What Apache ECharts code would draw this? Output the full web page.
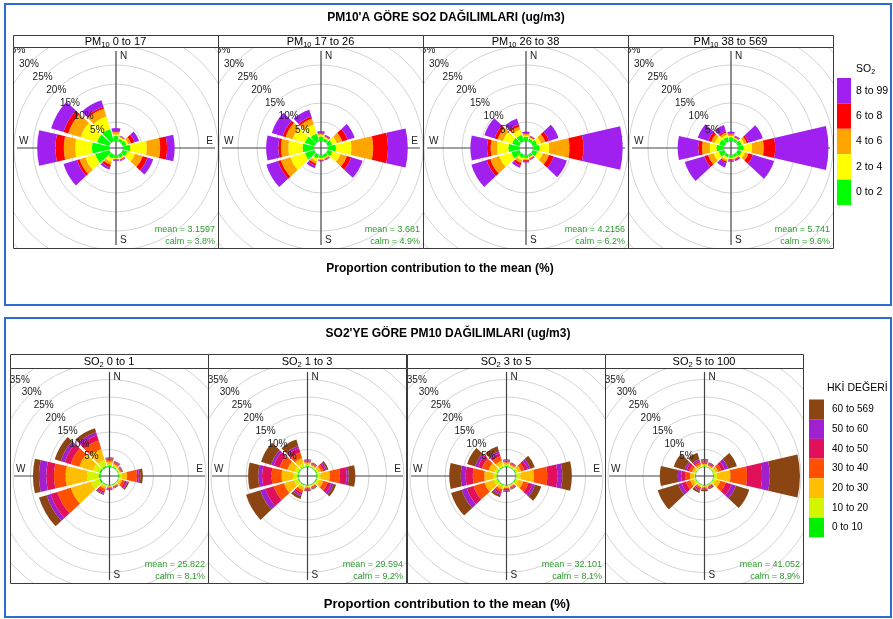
<!DOCTYPE html>
<html><head><meta charset="utf-8">
<script src="https://cdn.jsdelivr.net/npm/echarts@6/dist/echarts.min.js"></script>
<style>
html,body{margin:0;padding:0;background:#fff;}
#wrap{position:relative;width:893px;height:619px;overflow:hidden;background:#fff;}
.c{position:absolute;}
</style></head><body>
<div id="wrap"><div id="bg" class="c" style="left:0;top:0;width:893px;height:619px"></div></div>
<script>
// ---------------- DATA ----------------
const directions = [0, 30, 60, 90, 120, 150, 180, 210, 240, 270, 300, 330];
const ringTicks = [5, 10, 15, 20, 25, 30, 35];

const so2Bins = ['0 to 2', '2 to 4', '4 to 6', '6 to 8', '8 to 99'];
const so2Colors = ['#00FF00', '#FFFF00', '#FFA500', '#FF0000', '#A020F0'];
const pmBins = ['0 to 10', '10 to 20', '20 to 30', '30 to 40', '40 to 50', '50 to 60', '60 to 569'];
const pmColors = ['#00F000', '#D4F500', '#FFBF00', '#FF5000', '#E0115A', '#A020D0', '#8B4513'];

const topStrips = ['0 to 17', '17 to 26', '26 to 38', '38 to 569'];
const topMeans = ['3.1597', '3.681', '4.2156', '5.741'];
const topCalms = ['3.8%', '4.9%', '6.2%', '9.6%'];
const bottomStrips = ['0 to 1', '1 to 3', '3 to 5', '5 to 100'];
const bottomMeans = ['25.822', '29.594', '32.101', '41.052'];
const bottomCalms = ['8.1%', '9.2%', '8.1%', '8.9%'];

// cumulative % per direction (N, 30, 60, E, ..., 330), one value per bin (stack top)
const topPM1 = [
  [1.3,1.8,2.4,2.6,3.4],[0.8,1.1,1.3,1.4,1.6],[1.0,1.5,2.3,3.3,4.5],[1.9,6.3,9.8,11.6,13.6],
  [1.3,3.4,5.5,6.8,8.4],[0.9,1.2,1.4,1.6,1.8],[0.8,1.0,1.2,1.4,1.6],[1.0,2.0,2.8,3.5,4.1],
  [3.9,6.6,8.2,8.9,12.6],[4.5,8.9,11.9,14.1,18.9],[3.4,7.9,11.3,12.6,16.0],[3.4,6.8,9.0,9.5,11.3]];
const topPM2 = [
  [1.2,1.6,2.0,2.2,2.6],[0.8,1.1,1.3,1.5,1.8],[1.2,2.5,4.0,5.5,7.4],[2.1,6.2,11.9,15.8,21.0],
  [1.3,3.5,5.3,6.5,9.6],[0.8,1.0,1.2,1.4,1.6],[0.8,1.1,1.3,1.5,1.7],[1.0,1.8,2.5,3.0,3.7],
  [2.6,6.6,9.2,10.0,13.2],[3.0,6.8,8.7,9.4,12.6],[2.6,6.0,7.9,8.7,11.7],[2.1,4.7,6.3,6.8,8.7]];
const topPM3 = [
  [1.1,1.5,1.9,2.1,2.5],[0.8,1.0,1.2,1.4,1.6],[1.2,2.3,3.5,4.5,7.1],[1.7,4.3,9.6,13.3,23.6],
  [1.3,2.8,4.5,5.8,9.4],[0.7,0.9,1.1,1.3,1.5],[0.8,1.1,1.4,1.7,2.0],[0.9,1.6,2.3,2.9,3.6],
  [2.2,5.5,8.0,9.0,13.2],[2.8,5.8,7.5,8.4,12.8],[2.0,4.5,6.0,6.8,9.6],[1.8,3.2,4.1,4.7,6.3]];
const topPM4 = [
  [1.0,1.4,1.8,2.0,2.5],[0.7,0.9,1.1,1.3,1.6],[1.1,1.8,2.5,3.0,6.9],[1.5,3.7,6.8,9.8,23.8],
  [1.1,2.0,3.0,4.2,10.0],[0.7,1.0,1.2,1.4,1.8],[0.7,1.0,1.2,1.5,1.8],[0.8,1.4,1.9,2.3,3.5],
  [1.5,3.0,4.5,5.5,10.9],[2.0,3.8,5.8,6.8,12.2],[1.4,2.6,3.6,4.4,7.3],[1.2,1.8,2.4,2.8,4.5]];

const botSO1 = [
  [0.4,1.0,1.6,2.0,2.3,2.5,2.8],[0.3,0.7,1.1,1.4,1.6,1.8,2.0],[0.2,0.5,0.8,1.0,1.2,1.3,1.5],
  [0.3,1.0,2.5,5.3,5.8,6.3,7.0],[0.2,0.6,1.2,2.0,2.6,2.9,3.3],[0.2,0.4,0.6,0.8,0.9,1.0,1.2],
  [0.2,0.4,0.7,0.9,1.1,1.3,1.5],[0.3,0.7,1.3,2.0,2.5,2.8,3.1],[0.5,3.0,9.0,13.0,15.0,16.2,18.5],
  [0.5,3.8,10.0,13.3,15.5,17.6,19.3],[0.5,2.5,6.5,9.0,10.8,12.0,13.8],[0.5,2.3,5.5,8.0,9.6,10.5,11.7]];
const botSO2 = [
  [0.3,0.8,1.3,1.6,1.8,2.0,2.2],[0.2,0.5,0.8,1.0,1.2,1.3,1.5],[0.3,0.8,1.5,2.2,2.8,3.2,3.7],
  [0.3,1.2,3.8,6.7,8.6,9.2,11.1],[0.3,1.0,2.2,3.5,4.5,5.2,6.0],[0.2,0.4,0.7,0.9,1.1,1.3,1.5],
  [0.2,0.5,0.8,1.1,1.4,1.6,1.8],[0.3,0.8,1.6,2.4,3.0,3.5,4.3],[0.3,1.5,4.5,7.5,10.0,11.5,15.8],
  [0.3,1.5,4.9,7.7,10.4,11.5,14.4],[0.3,1.3,3.5,5.8,7.5,8.3,11.3],[0.3,1.2,2.8,4.5,5.8,6.4,8.3]];
const botSO3 = [
  [0.3,0.8,1.3,1.6,1.8,2.0,2.2],[0.2,0.5,0.8,1.0,1.2,1.3,1.5],[0.3,0.9,1.8,2.8,3.8,4.5,5.9],
  [0.3,1.5,5.3,9.1,12.0,13.4,16.1],[0.3,1.0,2.5,4.0,5.2,6.0,7.8],[0.2,0.4,0.7,0.9,1.1,1.3,1.5],
  [0.2,0.5,0.9,1.2,1.5,1.7,2.0],[0.3,0.7,1.4,2.1,2.7,3.1,3.8],[0.3,1.3,4.0,7.3,9.3,10.8,14.0],
  [0.3,1.2,3.8,7.1,9.1,10.5,13.8],[0.3,1.0,2.8,4.8,6.0,6.8,9.2],[0.3,0.9,2.0,3.3,4.2,4.8,6.3]];
const botSO4 = [
  [0.2,0.5,0.9,1.3,1.6,1.9,2.3],[0.2,0.4,0.6,0.8,1.0,1.2,1.5],[0.2,0.7,1.5,2.5,3.5,4.5,7.1],
  [0.2,1.1,4.9,9.6,13.9,16.1,24.7],[0.2,0.8,2.2,3.8,5.5,6.8,10.8],[0.2,0.3,0.5,0.7,0.9,1.1,1.4],
  [0.2,0.4,0.7,1.0,1.2,1.4,1.8],[0.2,0.4,0.8,1.2,1.6,1.9,2.5],[0.2,0.6,1.7,3.0,4.3,5.3,11.4],
  [0.2,0.5,1.6,2.9,4.1,5.1,10.2],[0.2,0.5,1.2,2.0,2.8,3.4,6.6],[0.2,0.4,0.9,1.5,2.0,2.4,4.4]];

// ---------------- LAYOUT ----------------
const FONT = "'Liberation Sans', Arial, Helvetica, sans-serif";
const BLUE = '#2D6CD2';
const BORDER = '#3a3a3a';
const groups = [
  { lefts: [13, 218, 423, 628], w: 205, stripTop: 35, top: 47, h: 201,
    inner: 7, pxPer: 3.8, labAng: 44, bins: so2Bins, colors: so2Colors,
    stripPre: 'PM', stripSub: '10', strips: topStrips, means: topMeans, calms: topCalms,
    data: [topPM1, topPM2, topPM3, topPM4] },
  { lefts: [10, 208, 407, 605], w: 198, stripTop: 354, top: 368, h: 215,
    inner: 9, pxPer: 3.5, labAng: 47, bins: pmBins, colors: pmColors,
    stripPre: 'SO', stripSub: '2', strips: bottomStrips, means: bottomMeans, calms: bottomCalms,
    data: [botSO1, botSO2, botSO3, botSO4] }
];

// ---------------- BACKGROUND ----------------
const bgEls = [];
bgEls.push({ type: 'rect', shape: { x: 5, y: 4, width: 886, height: 301 }, style: { fill: 'none', stroke: BLUE, lineWidth: 2 } });
bgEls.push({ type: 'rect', shape: { x: 5, y: 318, width: 886, height: 299 }, style: { fill: 'none', stroke: BLUE, lineWidth: 2 } });
bgEls.push({ type: 'text', style: { text: "PM10'A GÖRE SO2 DAĞILIMLARI (ug/m3)", x: 446, y: 18, textAlign: 'center', textVerticalAlign: 'middle', font: 'bold 12px ' + FONT, fill: '#000' } });
bgEls.push({ type: 'text', style: { text: "SO2'YE GÖRE PM10 DAĞILIMLARI (ug/m3)", x: 448, y: 334, textAlign: 'center', textVerticalAlign: 'middle', font: 'bold 12px ' + FONT, fill: '#000' } });
bgEls.push({ type: 'text', style: { text: 'Proportion contribution to the mean (%)', x: 440, y: 269, textAlign: 'center', textVerticalAlign: 'middle', font: 'bold 12px ' + FONT, fill: '#000' } });
bgEls.push({ type: 'text', style: { text: 'Proportion contribution to the mean (%)', x: 447, y: 604, textAlign: 'center', textVerticalAlign: 'middle', font: 'bold 13px ' + FONT, fill: '#000' } });

groups.forEach(g => {
  g.lefts.forEach((L, i) => {
    bgEls.push({ type: 'rect', shape: { x: L + 0.5, y: g.stripTop + 0.5, width: g.w, height: g.top - g.stripTop }, style: { fill: '#fff', stroke: BORDER, lineWidth: 1 } });
    bgEls.push({ type: 'rect', shape: { x: L + 0.5, y: g.top + 0.5, width: g.w, height: g.h }, style: { fill: '#fff', stroke: BORDER, lineWidth: 1 } });
    bgEls.push({ type: 'text', style: {
      text: '{a|' + g.stripPre + '}{s|' + g.stripSub + '}{a| ' + g.strips[i] + '}',
      x: L + g.w / 2, y: (g.stripTop + g.top) / 2 + 0.5, textAlign: 'center', textVerticalAlign: 'middle',
      rich: { a: { fontSize: 11, fontFamily: FONT, lineHeight: 14, fill: '#000', color: '#000' },
              s: { fontSize: 7.5, fontFamily: FONT, lineHeight: 14, verticalAlign: 'bottom', fill: '#000', color: '#000' } } } });
  });
});

// legend top (SO2)
bgEls.push({ type: 'text', style: { text: '{a|SO}{s|2}', x: 856, y: 69, textAlign: 'left', textVerticalAlign: 'middle',
  rich: { a: { fontSize: 10.5, fontFamily: FONT, lineHeight: 14 }, s: { fontSize: 7, fontFamily: FONT, lineHeight: 14, verticalAlign: 'bottom' } } } });
for (let k = so2Bins.length - 1, row = 0; k >= 0; k--, row++) {
  const y = 78 + row * 25.4;
  bgEls.push({ type: 'rect', shape: { x: 837, y: y, width: 14, height: 25.4 }, style: { fill: so2Colors[k] } });
  bgEls.push({ type: 'text', style: { text: so2Bins[k], x: 856, y: y + 12.7, textAlign: 'left', textVerticalAlign: 'middle', font: '10.5px ' + FONT, fill: '#000' } });
}
// legend bottom (PM10)
bgEls.push({ type: 'text', style: { text: 'HKİ DEĞERİ', x: 827, y: 388, textAlign: 'left', textVerticalAlign: 'middle', font: '10.5px ' + FONT, fill: '#000' } });
for (let k = pmBins.length - 1, row = 0; k >= 0; k--, row++) {
  const y = 399.5 + row * 19.7;
  bgEls.push({ type: 'rect', shape: { x: 809, y: y, width: 15, height: 19.7 }, style: { fill: pmColors[k] } });
  bgEls.push({ type: 'text', style: { text: pmBins[k], x: 832, y: y + 9.85, textAlign: 'left', textVerticalAlign: 'middle', font: '10px ' + FONT, fill: '#000' } });
}

const bg = echarts.init(document.getElementById('bg'), null, { renderer: 'canvas' });
bg.setOption({ animation: false, backgroundColor: '#fff', graphic: { elements: bgEls } });

// ---------------- PANELS ----------------
const wrap = document.getElementById('wrap');
groups.forEach((g, gi) => {
  g.lefts.forEach((L, i) => {
    const div = document.createElement('div');
    div.className = 'c';
    div.style.left = (L + 1) + 'px';
    div.style.top = (g.top + 1) + 'px';
    div.style.width = (g.w - 1) + 'px';
    div.style.height = (g.h - 1) + 'px';
    wrap.appendChild(div);
    const w = g.w - 1, h = g.h - 1;
    const cx = w / 2, cy = h / 2;
    const cum = g.data[i];
    const series = g.bins.map((b, k) => ({
      type: 'bar', coordinateSystem: 'polar', stack: 'rose', name: b,
      data: cum.map(row => +(row[k] - (k ? row[k - 1] : 0)).toFixed(3)),
      itemStyle: { color: g.colors[k] }, barCategoryGap: '13%', silent: true, z: 3
    }));
    const els = [
      { type: 'line', z: 1, silent: true, shape: { x1: cx, y1: 3, x2: cx, y2: h - 3 }, style: { stroke: '#444', lineWidth: 1.2 } },
      { type: 'line', z: 1, silent: true, shape: { x1: 3, y1: cy, x2: w - 3, y2: cy }, style: { stroke: '#444', lineWidth: 1.2 } },
      { type: 'text', z: 1, style: { text: 'N', x: cx + 4, y: 8, textAlign: 'left', textVerticalAlign: 'middle', font: '10px ' + FONT, fill: '#222' } },
      { type: 'text', z: 1, style: { text: 'S', x: cx + 4, y: h - 8, textAlign: 'left', textVerticalAlign: 'middle', font: '10px ' + FONT, fill: '#222' } },
      { type: 'text', z: 1, style: { text: 'E', x: w - 5, y: cy - 7, textAlign: 'right', textVerticalAlign: 'middle', font: '10px ' + FONT, fill: '#222' } },
      { type: 'text', z: 1, style: { text: 'W', x: 5, y: cy - 7, textAlign: 'left', textVerticalAlign: 'middle', font: '10px ' + FONT, fill: '#222' } },
      { type: 'text', z: 20, style: { text: 'mean = ' + g.means[i], x: w - 3, y: h - 18, textAlign: 'right', textVerticalAlign: 'middle', font: '9px ' + FONT, fill: '#2E9A2E' } },
      { type: 'text', z: 20, style: { text: 'calm = ' + g.calms[i], x: w - 3, y: h - 6, textAlign: 'right', textVerticalAlign: 'middle', font: '9px ' + FONT, fill: '#2E9A2E' } }
    ];
    const a = g.labAng * Math.PI / 180;
    ringTicks.forEach(v => {
      const r = g.inner + g.pxPer * v;
      els.push({ type: 'text', z: 20, style: { text: v + '%', x: cx - r * Math.cos(a), y: cy - r * Math.sin(a), textAlign: 'center', textVerticalAlign: 'middle', font: '10px ' + FONT, fill: '#222' } });
    });
    const ch = echarts.init(div, null, { renderer: 'canvas' });
    ch.setOption({
      animation: false,
      polar: { center: [cx, cy], radius: [g.inner, g.inner + g.pxPer * 40] },
      angleAxis: { type: 'category', data: directions.map(String), startAngle: 105, clockwise: true,
        axisLine: { show: false }, axisTick: { show: false }, axisLabel: { show: false }, splitLine: { show: false } },
      radiusAxis: { type: 'value', min: 0, max: 40, interval: 5,
        axisLine: { show: false }, axisTick: { show: false }, axisLabel: { show: false },
        splitLine: { show: true, lineStyle: { color: '#D3D3D3', width: 1 } } },
      series: series,
      graphic: { elements: els }
    });
  });
});
</script>
</body></html>
